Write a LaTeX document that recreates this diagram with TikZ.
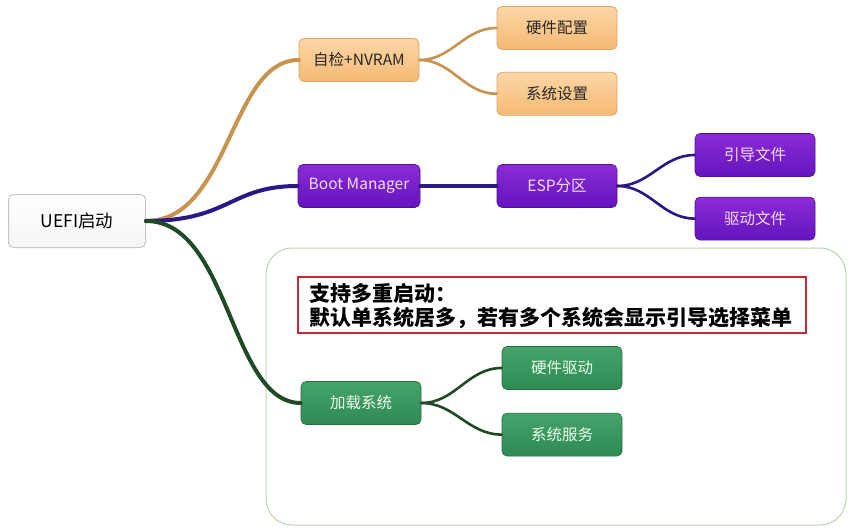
\documentclass[tikz,border=0pt]{standalone}
\usepackage{fontspec}
\setmainfont{Noto Sans CJK SC}
\usetikzlibrary{positioning,calc}

\definecolor{orangeline}{HTML}{C8924F}
\definecolor{orangetop}{HTML}{FBD6A6}
\definecolor{orangebot}{HTML}{F5BA74}
\definecolor{orangedraw}{HTML}{DDA566}
\definecolor{purpleline}{HTML}{2B1886}
\definecolor{purpletop}{HTML}{8A2BD6}
\definecolor{purplebot}{HTML}{6415BE}
\definecolor{purpletext}{HTML}{F3DDFF}
\definecolor{greenline}{HTML}{1F4A26}
\definecolor{greentop}{HTML}{45A36A}
\definecolor{greenbot}{HTML}{2F8A55}
\definecolor{greenframe}{HTML}{BCD5AE}
\definecolor{redframe}{HTML}{C42A32}

\tikzset{
  topic/.style={rounded corners=5pt, minimum width=120pt, minimum height=43pt, inner sep=0pt, font=\fontsize{15.5}{17}\selectfont},
  rootbox/.style={topic, minimum width=137pt, minimum height=53pt, draw=gray!45, line width=1pt, top color=white, bottom color=gray!8, font=\fontsize{17.5}{19}\selectfont},
  orangebox/.style={topic, draw=orangedraw, line width=0.8pt, top color=orangetop, bottom color=orangebot, text=black!85},
  purplebox/.style={topic, draw=purplebot!80!black, line width=0.6pt, top color=purpletop, bottom color=purplebot, text=purpletext},
  greenbox/.style={topic, draw=greenbot!80!black, line width=0.6pt, top color=greentop, bottom color=greenbot, text=white!92!green},
  branch/.style={line width=4pt, line cap=round},
  twig/.style={line width=2.6pt, line cap=round}
}

\begin{document}
\begin{tikzpicture}[x=1pt,y=-1pt]
\useasboundingbox[fill=white] (0,0) rectangle (855,530);

% frame round the boot menu part
\draw[greenframe, line width=1pt, rounded corners=26pt] (266,248) rectangle (846,525);
\node (note) [draw=redframe, line width=1.4pt, fill=white, minimum width=508pt, minimum height=56pt, inner sep=0pt] at (552,305) {};
\node (notetext) [anchor=west, align=left, font=\fontsize{21}{24}\selectfont\bfseries] at (306,306)
  {支持多重启动：\\默认单系统居多，若有多个系统会显示引导选择菜单};

\node (root) [rootbox] at (77,221) {UEFI启动};

\node (selfcheck) [orangebox] at (359,60) {自检+NVRAM};
\node (hwconf) [orangebox] at (557,28) {硬件配置};
\node (sysset) [orangebox, below=22pt of hwconf] {系统设置};

\node (bootmgr) [purplebox, minimum width=122pt] at (359,186) {Boot Manager};
\node (esp) [purplebox] at (557,186) {ESP分区};
\node (bootfile) [purplebox] at (755,155) {引导文件};
\node (drvfile) [purplebox, below=20pt of bootfile] {驱动文件};

\node (loadsys) [greenbox] at (361,403) {加载系统};
\node (hwdrv) [greenbox] at (562,368) {硬件驱动};
\node (sysserv) [greenbox, below=23pt of hwdrv] {系统服务};

% connectors
\draw[branch, orangeline] (root.east) .. controls (230,221) and (230,60) .. (selfcheck.west);
\draw[branch, purpleline] (root.east) .. controls (230,221) and (230,186) .. (bootmgr.west);
\draw[branch, greenline] (root.east) .. controls (230,221) and (230,403) .. (loadsys.west);
\draw[branch, purpleline] (bootmgr.east) -- (esp.west);

\draw[twig, orangeline] (selfcheck.east) to[out=0, in=180] (hwconf.west);
\draw[twig, orangeline] (selfcheck.east) to[out=0, in=180] (sysset.west);
\draw[twig, purpleline] (esp.east) to[out=0, in=180] (bootfile.west);
\draw[twig, purpleline] (esp.east) to[out=0, in=180] (drvfile.west);
\draw[twig, greenline] (loadsys.east) to[out=0, in=180] (hwdrv.west);
\draw[twig, greenline] (loadsys.east) to[out=0, in=180] (sysserv.west);
\end{tikzpicture}
\end{document}
